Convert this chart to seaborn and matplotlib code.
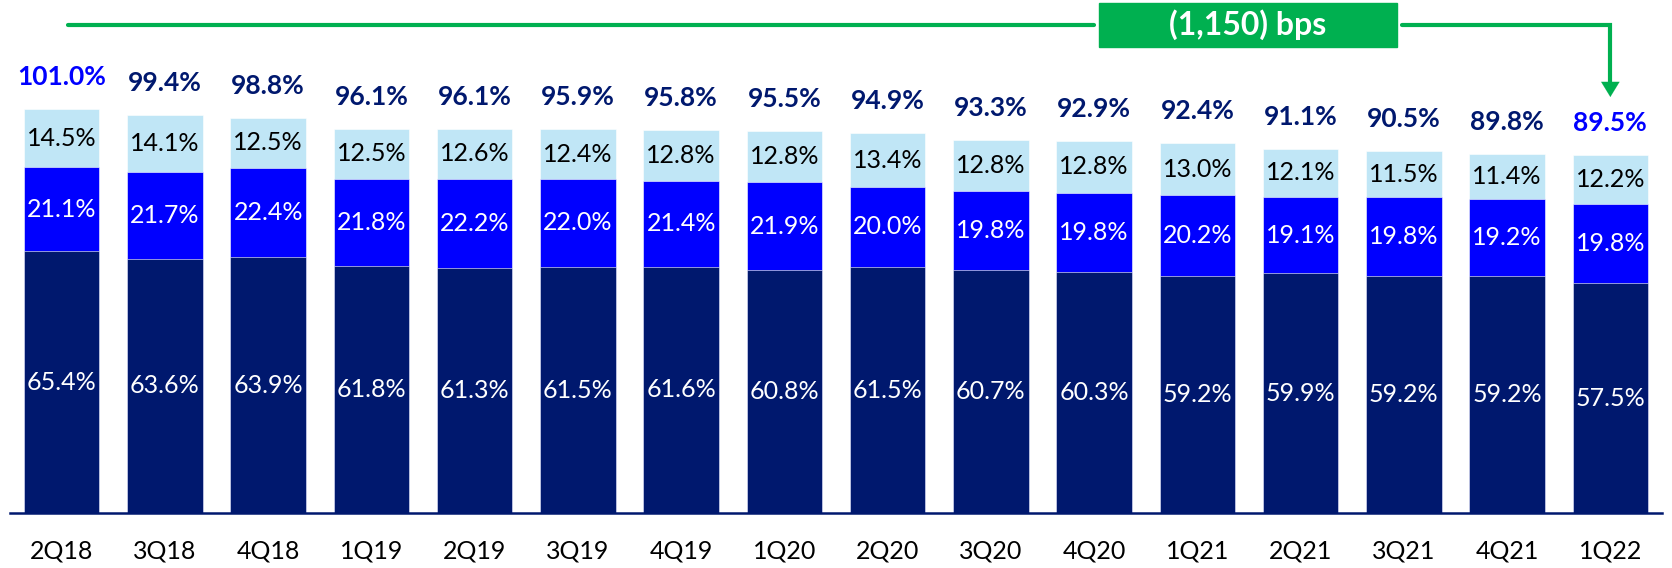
import seaborn as sns
import matplotlib.pyplot as plt
import pandas as pd
from matplotlib.patches import Rectangle

quarters = ["2Q18", "3Q18", "4Q18", "1Q19", "2Q19", "3Q19", "4Q19", "1Q20",
            "2Q20", "3Q20", "4Q20", "1Q21", "2Q21", "3Q21", "4Q21", "1Q22"]
bottom_seg = [65.4, 63.6, 63.9, 61.8, 61.3, 61.5, 61.6, 60.8,
              61.5, 60.7, 60.3, 59.2, 59.9, 59.2, 59.2, 57.5]
middle_seg = [21.1, 21.7, 22.4, 21.8, 22.2, 22.0, 21.4, 21.9,
              20.0, 19.8, 19.8, 20.2, 19.1, 19.8, 19.2, 19.8]
top_seg = [14.5, 14.1, 12.5, 12.5, 12.6, 12.4, 12.8, 12.8,
           13.4, 12.8, 12.8, 13.0, 12.1, 11.5, 11.4, 12.2]
totals = [101.0, 99.4, 98.8, 96.1, 96.1, 95.9, 95.8, 95.5,
          94.9, 93.3, 92.9, 92.4, 91.1, 90.5, 89.8, 89.5]
change_label = "(1,150) bps"

NAVY = "#00186E"
BLUE = "#0000FF"
LIGHT = "#C0E6F6"
GREEN = "#00B050"

df = pd.DataFrame({"Quarter": quarters, "bottom": bottom_seg,
                   "middle": middle_seg, "top": top_seg, "total": totals})
df["mid_cum"] = df["bottom"] + df["middle"]
df["top_cum"] = df["mid_cum"] + df["top"]

sns.set_theme(style="white")
plt.rcParams["font.family"] = ["Lato", "DejaVu Sans"]

fig = plt.figure(figsize=(16.72, 5.68), dpi=100)
ax = fig.add_axes([0.006, 1 - 513 / 568, 0.988, 513 / 568])

# stacked bars drawn back to front from cumulative heights
sns.barplot(data=df, x="Quarter", y="top_cum", color=LIGHT, width=0.73,
            saturation=1, ax=ax, edgecolor="white", linewidth=0.4)
sns.barplot(data=df, x="Quarter", y="mid_cum", color=BLUE, width=0.73,
            saturation=1, ax=ax, edgecolor="white", linewidth=0.4)
sns.barplot(data=df, x="Quarter", y="bottom", color=NAVY, width=0.73,
            saturation=1, ax=ax, edgecolor="white", linewidth=0.4)

ax.set_xlim(-0.5, 15.5)
ax.set_ylim(0, 128.25)

for i, row in df.iterrows():
    ax.text(i, row["bottom"] / 2, f"{row['bottom']:.1f}%", ha="center", va="center",
            color="white", fontsize=18)
    ax.text(i, row["bottom"] + row["middle"] / 2, f"{row['middle']:.1f}%", ha="center",
            va="center", color="white", fontsize=18)
    ax.text(i, row["mid_cum"] + row["top"] / 2, f"{row['top']:.1f}%", ha="center",
            va="center", color="black", fontsize=18)
    col = BLUE if i in (0, len(df) - 1) else NAVY
    ax.text(i, row["top_cum"] + 8, f"{row['total']:.1f}%", ha="center", va="center",
            color=col, fontsize=19, fontweight="bold")

# green bracket with arrow to the last quarter
line_y = 122
box_l, box_r = 10.05, 12.93
ax.plot([0.06, box_l - 0.05], [line_y, line_y], color=GREEN, lw=3, clip_on=False)
ax.plot([box_r + 0.05, 15, 15], [line_y, line_y, 107.5], color=GREEN, lw=3,
        clip_on=False, solid_joinstyle="miter")
ax.annotate("", xy=(15, 103.3), xytext=(15, 108),
            arrowprops=dict(arrowstyle="-|>,head_width=0.55,head_length=0.9",
                            color=GREEN, lw=0.1), annotation_clip=False)
ax.add_patch(Rectangle((box_l, line_y - 5.6), box_r - box_l, 11.2, color=GREEN,
                       clip_on=False, zorder=3))
ax.text((box_l + box_r) / 2, line_y, change_label, ha="center", va="center",
        color="white", fontsize=23, fontweight="bold", zorder=4)

sns.despine(ax=ax, left=True)
ax.spines["bottom"].set_color(NAVY)
ax.spines["bottom"].set_linewidth(1.8)
ax.set_yticks([])
ax.set_xlabel("")
ax.set_ylabel("")
ax.tick_params(axis="x", length=0, pad=19, labelsize=18, labelcolor="black")

plt.savefig("out.png", dpi=100)
